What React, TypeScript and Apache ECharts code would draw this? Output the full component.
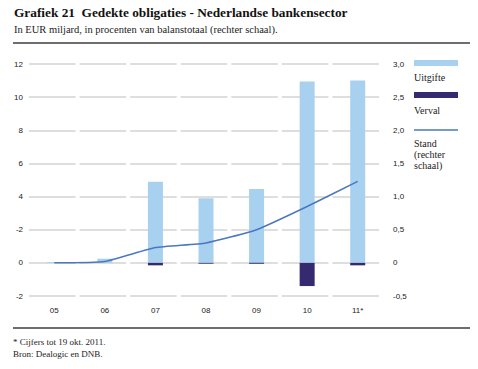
import React, { useEffect, useRef } from "react";
import * as echarts from "echarts";

const categories = ["05", "06", "07", "08", "09", "10", "11*"];
const uitgifte = [0.05, 0.25, 4.9, 3.9, 4.45, 10.95, 11.0];
const verval = [0, 0, -0.15, -0.05, -0.05, -1.4, -0.15];
const stand = [0, 0.02, 0.23, 0.3, 0.5, 0.85, 1.23];
const leftTickLabels: Record<string, string> = {
  "-2": "-2", "0": "0", "2": "-2", "4": "4", "6": "6", "8": "8", "10": "10", "12": "12",
};
const rightTickLabels: Record<string, string> = {
  "-0.5": "-0,5", "0": "0", "0.5": "0,5", "1": "1,0", "1.5": "1,5", "2": "2,0", "2.5": "2,5", "3": "3,0",
};

const SERIF = "'Liberation Serif', 'DejaVu Serif', serif";
const SANS = "'Liberation Sans', Arial, sans-serif";

export default function App() {
  const ref = useRef<HTMLDivElement>(null);
  useEffect(() => {
    if (!ref.current) return;
    const chart = echarts.init(ref.current, undefined, { renderer: "svg" });
    const gridLeft = 29;
    const gridRight = 95;
    const catW = (478 - gridLeft - gridRight) / categories.length;
    const gap = 4;
    chart.setOption({
      animation: false,
      backgroundColor: "#ffffff",
      grid: { left: gridLeft, right: gridRight, top: 64, height: 232 },
      xAxis: {
        type: "category",
        data: categories,
        position: "bottom",
        offset: 0,
        axisLine: { show: false },
        axisTick: { show: false },
        axisLabel: { color: "#222", fontFamily: SANS, fontSize: 8, margin: 10 },
      },
      yAxis: [
        {
          type: "value",
          min: -2,
          max: 12,
          interval: 2,
          axisLine: { show: false },
          axisTick: { show: false },
          axisLabel: {
            color: "#222",
            fontFamily: SANS,
            fontSize: 8,
            margin: 6,
            formatter: (v: number) => leftTickLabels[String(v)] ?? String(v),
          },
          splitLine: {
            show: true,
            lineStyle: { color: "#d4d4d4", width: 1.5, type: [catW - gap, gap] },
          },
        },
        {
          type: "value",
          min: -0.5,
          max: 3,
          interval: 0.5,
          axisLine: { show: false },
          axisTick: { show: false },
          splitLine: { show: false },
          axisLabel: {
            color: "#222",
            fontFamily: SANS,
            fontSize: 8,
            margin: 10,
            formatter: (v: number) => rightTickLabels[String(v)] ?? String(v),
          },
        },
      ],
      series: [
        {
          name: "Uitgifte",
          type: "bar",
          stack: "a",
          barWidth: 15,
          data: uitgifte,
          itemStyle: { color: "#a8d0ef" },
        },
        {
          name: "Verval",
          type: "bar",
          stack: "a",
          barWidth: 15,
          data: verval,
          itemStyle: { color: "#35296f" },
        },
        {
          name: "Stand",
          type: "line",
          yAxisIndex: 1,
          data: stand,
          smooth: 0.15,
          symbol: "none",
          lineStyle: { color: "#4a78c0", width: 1.5 },
        },
      ],
      graphic: [
        { type: "text", left: 14, top: 6, style: { text: "Grafiek 21  Gedekte obligaties - Nederlandse bankensector", font: `bold 13.3px ${SERIF}`, fill: "#111" } },
        { type: "text", left: 14, top: 24, style: { text: "In EUR miljard, in procenten van balanstotaal (rechter schaal).", font: `10.5px ${SERIF}`, fill: "#222" } },
        { type: "rect", shape: { x: 13, y: 42, width: 457, height: 2 }, style: { fill: "#6e6e6e" } },
        { type: "rect", shape: { x: 13, y: 327, width: 457, height: 2 }, style: { fill: "#6e6e6e" } },
        { type: "text", left: 13, top: 337, style: { text: "* Cijfers tot 19 okt. 2011.", font: `9px ${SERIF}`, fill: "#222" } },
        { type: "text", left: 13, top: 349, style: { text: "Bron: Dealogic en DNB.", font: `9px ${SERIF}`, fill: "#222" } },
        { type: "rect", shape: { x: 414, y: 60, width: 44, height: 6 }, style: { fill: "#a8d0ef" } },
        { type: "text", left: 414, top: 72, style: { text: "Uitgifte", font: `10px ${SERIF}`, fill: "#222" } },
        { type: "rect", shape: { x: 414, y: 92, width: 44, height: 6 }, style: { fill: "#35296f" } },
        { type: "text", left: 414, top: 105, style: { text: "Verval", font: `10px ${SERIF}`, fill: "#222" } },
        { type: "line", shape: { x1: 414, y1: 130, x2: 458, y2: 130 }, style: { stroke: "#4a78c0", lineWidth: 1.5 } },
        { type: "text", left: 414, top: 138, style: { text: "Stand\n(rechter\nschaal)", font: `10px ${SERIF}`, lineHeight: 11, fill: "#222" } },
      ],
    });
    return () => chart.dispose();
  }, []);
  return (
    <div
      ref={ref}
      style={{ position: "fixed", left: 0, top: 0, width: 478, height: 369 }}
    />
  );
}
